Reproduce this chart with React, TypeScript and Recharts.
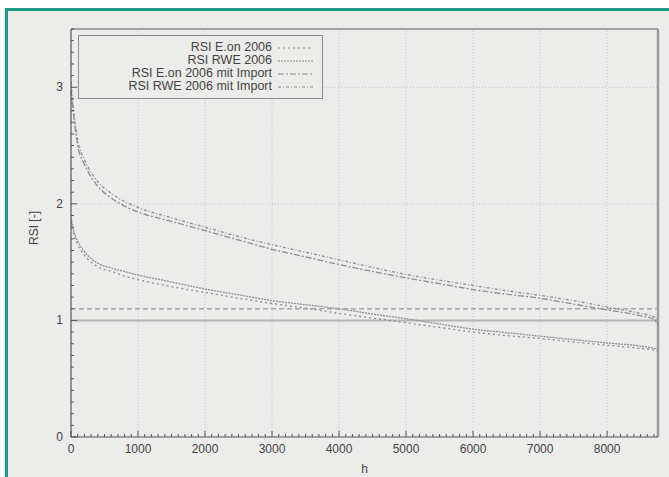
import React from 'react';
import { LineChart, Line, XAxis, YAxis, ReferenceLine, Label } from 'recharts';

const hours = [0, 50, 100, 200, 300, 400, 600, 800, 1000, 1500, 2000, 2500, 3000, 3500, 4000, 4500, 5000, 5500, 6000, 6500, 7000, 7500, 8000, 8500, 8700, 8760];
const rsiEon = [1.84, 1.72, 1.65, 1.56, 1.50, 1.46, 1.42, 1.38, 1.35, 1.29, 1.24, 1.19, 1.145, 1.105, 1.06, 1.02, 0.98, 0.94, 0.90, 0.87, 0.845, 0.815, 0.787, 0.76, 0.745, 0.73];
const rsiRwe = [1.88, 1.75, 1.68, 1.59, 1.53, 1.49, 1.45, 1.42, 1.39, 1.33, 1.27, 1.22, 1.17, 1.135, 1.10, 1.055, 1.015, 0.97, 0.925, 0.895, 0.865, 0.835, 0.807, 0.78, 0.76, 0.75];
const rsiEonImport = [2.98, 2.70, 2.50, 2.34, 2.23, 2.15, 2.05, 1.98, 1.93, 1.85, 1.77, 1.69, 1.61, 1.545, 1.48, 1.42, 1.365, 1.315, 1.265, 1.225, 1.19, 1.14, 1.09, 1.04, 1.01, 0.96];
const rsiRweImport = [3.05, 2.75, 2.55, 2.38, 2.27, 2.19, 2.09, 2.02, 1.97, 1.88, 1.80, 1.72, 1.65, 1.585, 1.52, 1.455, 1.395, 1.345, 1.30, 1.255, 1.215, 1.17, 1.115, 1.06, 1.03, 0.97];

const seriesNames = ['RSI E.on 2006', 'RSI RWE 2006', 'RSI E.on 2006 mit Import', 'RSI RWE 2006 mit Import'];
const seriesDash = ['2 3', '2 1', '6 2 2 2', '3 2 1 2'];

const xMajorTicks = [0, 1000, 2000, 3000, 4000, 5000, 6000, 7000, 8000];
const xMinorTicks = Array.from({ length: 88 }, (_, i) => i * 100);
const yMajorTicks = [0, 1, 2, 3];
const yMinorTicks = Array.from({ length: 36 }, (_, i) => Math.round(i * 10) / 100);
const yGridLines = [2, 3];
const refSolid = 1.0;
const refDashed = 1.1;
const xMax = 8760;
const yMax = 3.5;

const data = hours.map((h, i) => ({
  h,
  eon: rsiEon[i],
  rwe: rsiRwe[i],
  eonImp: rsiEonImport[i],
  rweImp: rsiRweImport[i],
}));

const keys = ['eon', 'rwe', 'eonImp', 'rweImp'];
const lineColor = '#8e8e8e';
const font = '"Liberation Sans", Arial, sans-serif';

const XTick = (props: any) => {
  const { x, y, payload } = props;
  const v = payload.value;
  const major = xMajorTicks.includes(v);
  return (
    <g>
      <line x1={x} x2={x} y1={y} y2={y - (major ? 6 : 3)} stroke="#555" strokeWidth={1} />
      {major && (
        <text x={x} y={y + 16} textAnchor="middle" fontSize={12} fill="#444" fontFamily={font}>
          {v}
        </text>
      )}
    </g>
  );
};

const YTick = (props: any) => {
  const { x, y, payload } = props;
  const v = Math.round(payload.value * 100) / 100;
  const major = yMajorTicks.includes(v);
  return (
    <g>
      <line x1={x} x2={x + (major ? 6 : 3)} y1={y} y2={y} stroke="#555" strokeWidth={1} />
      {major && (
        <text x={x - 8} y={y + 4} textAnchor="end" fontSize={12} fill="#444" fontFamily={font}>
          {v}
        </text>
      )}
    </g>
  );
};

const LegendBox = () => (
  <div
    style={{
      position: 'absolute',
      left: 78,
      top: 35,
      width: 245,
      height: 64,
      border: '1.5px solid #8a8a8a',
      background: '#ececeb',
      boxSizing: 'border-box',
      fontFamily: font,
      fontSize: 12.5,
      color: '#444',
    }}
  >
    {seriesNames.map((name, i) => (
      <div key={name} style={{ position: 'absolute', left: 0, top: 4.5 + i * 13.3, height: 13, width: 243 }}>
        <span style={{ position: 'absolute', right: 50, top: 0, lineHeight: '13px', whiteSpace: 'nowrap' }}>{name}</span>
        <svg style={{ position: 'absolute', left: 199, top: 0 }} width={36} height={13}>
          <line x1={0} x2={35} y1={7} y2={7} stroke={lineColor} strokeWidth={1.2} strokeDasharray={seriesDash[i]} />
        </svg>
      </div>
    ))}
  </div>
);

export default function App() {
  return (
    <div style={{ position: 'absolute', left: 0, top: 0, width: 669, height: 477, background: '#fff', overflow: 'hidden' }}>
      <div
        style={{
          position: 'absolute',
          left: 5,
          top: 8,
          width: 670,
          height: 480,
          borderTop: '3px solid #1f9a83',
          borderLeft: '3px solid #1f9a83',
          background: '#ececeb',
        }}
      />
      <div style={{ position: 'absolute', left: 0, top: 0 }}>
        <LineChart width={669} height={477} data={data} margin={{ top: 29, right: 11, bottom: 10, left: 31 }}>
          <XAxis
            dataKey="h"
            type="number"
            domain={[0, xMax]}
            allowDataOverflow
            ticks={xMinorTicks}
            interval={0}
            tick={<XTick />}
            tickLine={false}
            tickSize={0}
            tickMargin={0}
            height={30}
            axisLine={{ stroke: '#555', strokeWidth: 1.2 }}
          >
            <Label value="h" position="insideBottom" offset={-6} style={{ fontSize: 12, fill: '#444', fontFamily: font }} />
          </XAxis>
          <YAxis
            type="number"
            domain={[0, yMax]}
            allowDataOverflow
            ticks={yMinorTicks}
            interval={0}
            tick={<YTick />}
            tickLine={false}
            tickSize={0}
            tickMargin={0}
            width={40}
            axisLine={{ stroke: '#555', strokeWidth: 1.2 }}
          >
            <Label value="RSI [-]" angle={-90} position="insideLeft" offset={0} dx={3} dy={-5} style={{ fontSize: 12, fill: '#444', fontFamily: font, textAnchor: 'middle' }} />
          </YAxis>
          {xMajorTicks.slice(1).map((t) => (
            <ReferenceLine key={'gx' + t} x={t} stroke="#c4c4c4" strokeDasharray="1 2" />
          ))}
          {yGridLines.map((t) => (
            <ReferenceLine key={'gy' + t} y={t} stroke="#c4c4c4" strokeDasharray="1 2" />
          ))}
          <ReferenceLine y={yMax} stroke="#8a8a8a" strokeWidth={1.5} />
          <ReferenceLine x={xMax} stroke="#9a9a9a" strokeWidth={2.5} />
          <ReferenceLine y={refSolid} stroke="#b4b4b4" strokeWidth={2} />
          <ReferenceLine y={refDashed} stroke="#a8a8a8" strokeWidth={1.3} strokeDasharray="5 3" />
          {keys.map((k, i) => (
            <Line
              key={k}
              dataKey={k}
              name={seriesNames[i]}
              type="monotone"
              stroke={lineColor}
              strokeWidth={1.3}
              strokeDasharray={seriesDash[i]}
              dot={false}
              isAnimationActive={false}
            />
          ))}
        </LineChart>
      </div>
      <LegendBox />
    </div>
  );
}
